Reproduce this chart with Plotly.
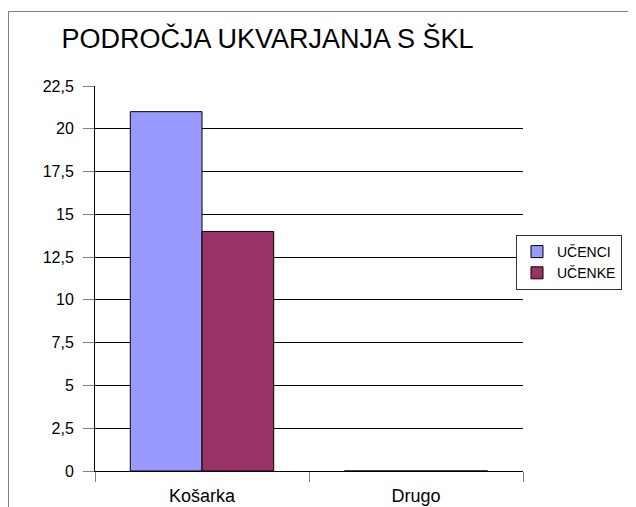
import plotly.graph_objects as go

categories = ["Košarka", "Drugo"]
ucenci = [21, 0]
ucenke = [14, 0]
tick_vals = [0, 2.5, 5, 7.5, 10, 12.5, 15, 17.5, 20, 22.5]
tick_text = ["0", "2,5", "5", "7,5", "10", "12,5", "15", "17,5", "20", "22,5"]

# page is offset by the 8px body margin; work in figure coordinates
OFF = 8
W, H = 636 - OFF, 507 - OFF
L, R, T, B = 95 - OFF, 523 - OFF, 86 - OFF, 471 - OFF

def px(x):
    return (x - OFF - L) / (R - L)

def py(y):
    return (B - (y - OFF)) / (B - T)

FONT = "Liberation Sans, Arial, sans-serif"

fig = go.Figure()
fig.add_trace(go.Bar(name="UČENCI", x=categories, y=ucenci,
                     marker=dict(color="#9999FF", line=dict(color="black", width=1))))
fig.add_trace(go.Bar(name="UČENKE", x=categories, y=ucenke,
                     marker=dict(color="#993366", line=dict(color="black", width=1))))

fig.update_layout(
    width=W, height=H,
    margin=dict(l=L, r=W - R, t=T, b=H - B, pad=0, autoexpand=False),
    paper_bgcolor="white", plot_bgcolor="white",
    font=dict(family=FONT, color="black", size=14),
    barmode="group", bargap=0.33, bargroupgap=0,
    title=dict(text="PODROČJA UKVARJANJA S ŠKL", x=(267.5 - OFF) / W, xanchor="center",
               y=1 - (39 - OFF) / H, yanchor="middle",
               font=dict(size=27, family=FONT)),
    legend=dict(x=px(516), y=py(235), xanchor="left", yanchor="top",
                bordercolor="#333333", borderwidth=1, bgcolor="white",
                font=dict(size=14), tracegroupgap=0, itemwidth=30),
    showlegend=True,
)
fig.update_yaxes(range=[0, 22.5], tickvals=tick_vals, ticktext=tick_text,
                 showgrid=True, gridcolor="black", gridwidth=1,
                 showline=True, linecolor="black", linewidth=1,
                 ticks="outside", ticklen=11, tickcolor="#808080",
                 ticklabelstandoff=6, automargin=False,
                 zeroline=False, tickfont=dict(size=16))
fig.update_xaxes(showline=True, linecolor="black", linewidth=1,
                 ticks="outside", ticklen=10, tickcolor="#808080",
                 tickson="boundaries", ticklabelstandoff=8, automargin=False,
                 tickfont=dict(size=18))

# outer chart frame (left and top edges visible)
fig.add_shape(type="line", xref="paper", yref="paper",
              x0=px(8.5), x1=px(8.5), y0=py(520), y1=py(11.5),
              line=dict(color="#808080", width=1), layer="above")
fig.add_shape(type="line", xref="paper", yref="paper",
              x0=px(8.5), x1=px(660), y0=py(11.5), y1=py(11.5),
              line=dict(color="#808080", width=1), layer="above")

fig.write_html("out.html")
